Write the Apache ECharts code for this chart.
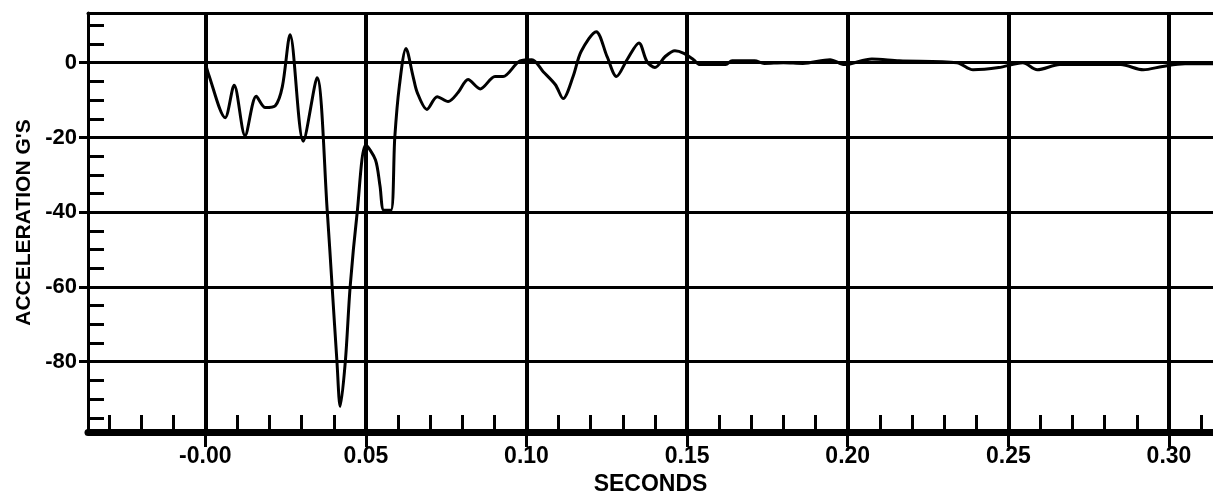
<!DOCTYPE html>
<html>
<head>
<meta charset="utf-8">
<script src="https://cdn.jsdelivr.net/npm/echarts@6.0.0/dist/echarts.min.js"></script>
<style>
  html, body { margin: 0; padding: 0; background: #fff; }
  #main { width: 1213px; height: 495px; }
</style>
</head>
<body>
<div id="main"></div>
<script>
// time (s) and acceleration (G)
var times = [0.000, 0.001, 0.0062, 0.009, 0.0124, 0.0159, 0.0187, 0.0218, 0.024, 0.0264,
  0.0305, 0.0348, 0.038, 0.0395, 0.041, 0.042, 0.0436, 0.0451, 0.0473, 0.050,
  0.053, 0.0544, 0.0556, 0.0578, 0.059, 0.0604, 0.0625, 0.0647, 0.066, 0.069,
  0.0722, 0.0756, 0.0787, 0.0818, 0.0856, 0.0902, 0.0927, 0.098, 0.1017, 0.1052,
  0.109, 0.1114, 0.1145, 0.117, 0.1217, 0.1251, 0.128, 0.1313, 0.135, 0.1375,
  0.140, 0.1431, 0.1462, 0.149, 0.152, 0.154, 0.162, 0.164, 0.171, 0.174,
  0.180, 0.186, 0.1945, 0.199, 0.2075, 0.216, 0.234, 0.239, 0.247, 0.2545,
  0.259, 0.266, 0.285, 0.292, 0.298, 0.305, 0.3137];
var accel = [0, -3, -14.7, -6, -19.5, -9, -12, -11.5, -6.4, 7.5,
  -21, -4, -40, -60, -80, -92, -80, -60, -40, -22,
  -26, -33, -39.5, -39.5, -20, -6.4, 3.8, -3.7, -8, -12.5,
  -9.1, -10.4, -8, -4.5, -7, -3.7, -3.7, 0.5, 0.8, -2.4,
  -5.9, -9.6, -3.7, 3, 8.3, 1.6, -3.7, 0.8, 5.3, 0.3,
  -1.3, 1.6, 3.2, 2.5, 0.8, -0.5, -0.5, 0.5, 0.5, -0.2,
  0, -0.2, 0.8, -0.5, 1, 0.5, 0, -1.9, -1.3, 0,
  -1.9, -0.5, -0.5, -1.9, -1, -0.3, -0.3];

var xMajor = [0, 0.05, 0.10, 0.15, 0.20, 0.25, 0.30];
var xLabels = ['-0.00', '0.05', '0.10', '0.15', '0.20', '0.25', '0.30'];
var xMinor = [-0.03, -0.02, -0.01, 0.01, 0.02, 0.03, 0.04, 0.06, 0.07, 0.08, 0.09,
  0.11, 0.12, 0.13, 0.14, 0.16, 0.17, 0.18, 0.19, 0.21, 0.22, 0.23, 0.24,
  0.26, 0.27, 0.28, 0.29, 0.31];
var yMajor = [0, -20, -40, -60, -80];
var yMinor = [10, 5, -5, -10, -15, -25, -30, -35, -45, -50, -55,
  -65, -70, -75, -85, -90, -95];

var font = '"Liberation Sans", Arial, sans-serif';
var xMin = -0.0365, xMax = 0.3137, yMin = -98.8, yMax = 13.3;

var myChart = echarts.init(document.getElementById('main'));
myChart.setOption({
  animation: false,
  backgroundColor: '#fff',
  grid: { left: 88, right: 0, top: 13, bottom: 63, outerBoundsMode: 'none' },
  xAxis: [{
    type: 'value', position: 'bottom', min: xMin, max: xMax,
    name: 'SECONDS', nameLocation: 'middle', nameGap: 40,
    nameTextStyle: { color: '#000', fontFamily: font, fontWeight: 'bold', fontSize: 23 },
    axisLine: { onZero: false, lineStyle: { color: '#000', width: 7 } },
    axisTick: { customValues: xMajor, length: 15, lineStyle: { color: '#000', width: 3 } },
    axisLabel: {
      customValues: xMajor, margin: 13, color: '#000', fontFamily: font,
      fontWeight: 'bold', fontSize: 23,
      formatter: function (v) {
        for (var i = 0; i < xMajor.length; i++) {
          if (Math.abs(xMajor[i] - v) < 1e-6) return xLabels[i];
        }
        return '';
      }
    },
    splitLine: { show: true, lineStyle: { color: '#000', width: 4 } }
  }, {
    type: 'value', position: 'bottom', min: xMin, max: xMax,
    axisLine: { show: false, onZero: false },
    axisTick: { customValues: xMinor, inside: true, length: 17, lineStyle: { color: '#000', width: 3 } },
    axisLabel: { show: false },
    splitLine: { show: false }
  }, {
    type: 'value', position: 'top', min: xMin, max: xMax,
    axisLine: { onZero: false, lineStyle: { color: '#000', width: 3 } },
    axisTick: { show: false }, axisLabel: { show: false }, splitLine: { show: false }
  }],
  yAxis: [{
    type: 'value', position: 'left', min: yMin, max: yMax,
    name: "ACCELERATION G'S", nameLocation: 'middle', nameGap: 52, nameRotate: 90,
    nameTextStyle: { color: '#000', fontFamily: font, fontWeight: 'bold', fontSize: 21 },
    axisLine: { show: true, onZero: false, lineStyle: { color: '#000', width: 3 } },
    axisTick: { customValues: yMajor, inside: false, length: 9, lineStyle: { color: '#000', width: 3 } },
    axisLabel: { customValues: yMajor, margin: 11, color: '#000', fontFamily: font, fontWeight: 'bold', fontSize: 22 },
    splitLine: { show: true, lineStyle: { color: '#000', width: 3 } }
  }, {
    type: 'value', position: 'left', min: yMin, max: yMax,
    axisLine: { show: false, onZero: false },
    axisTick: { customValues: yMinor, inside: true, length: 16, lineStyle: { color: '#000', width: 3 } },
    axisLabel: { show: false },
    splitLine: { show: false }
  }],
  series: [{
    type: 'line',
    xAxisIndex: 0, yAxisIndex: 0,
    data: times.map(function (t, i) { return [t, accel[i]]; }),
    showSymbol: false,
    smooth: 0.3,
    lineStyle: { color: '#000', width: 3 }
  }]
});
</script>
</body>
</html>
